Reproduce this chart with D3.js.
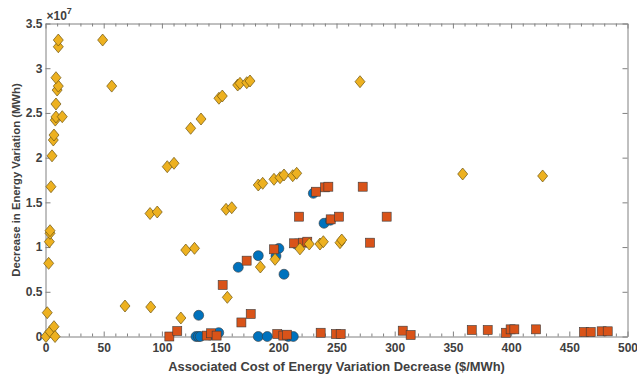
<!DOCTYPE html>
<html><head><meta charset="utf-8">
<script src="https://cdn.jsdelivr.net/npm/d3@7"></script>
<style>
html,body{margin:0;padding:0;background:#fff;}
text{font-family:"Liberation Sans",Arial,sans-serif;}
</style></head>
<body><svg id="c" width="637" height="377"></svg>
<script>
// x in $/MWh, y in units of 1e7 MWh
const circleX = [129.3,131.3,133,131.6,141.3,148.8,165.6,182.8,182.8,190.5,200.5,198,204.9,208.6,212.9,215.2,230.1,239.3,244.7];
const circleY = [0,0,0,0.237,0.017,0.043,0.774,0.904,0,0,0.985,0.9,0.696,0,0,1.034,1.601,1.266,1.3];

const squareX = [106.4,113.2,138.5,142.3,147,152.2,168.3,172.8,176.3,196.3,199.1,204.3,207.5,213.5,217.8,221,224.9,232.4,236.4,240.1,243,245,249.6,252.1,253.6,272.5,278.8,293.1,306.9,313.7,366.2,379.9,395.6,399.6,402.8,421.4,462.6,468.4,477.8,483];
const squareY = [0,0.061,0.01,0.036,0.01,0.576,0.157,0.848,0.252,0.975,0.028,0.01,0.02,1.042,1.34,1.049,1.06,1.619,0.042,1.668,1.675,1.31,0.028,1.34,0.028,1.675,1.049,1.34,0.065,0.017,0.073,0.073,0.042,0.08,0.08,0.08,0.05,0.05,0.058,0.058];

const diamondX = [0.4,1.5,2.7,3.3,3.9,3.9,3.9,7.3,8.2,4.7,5.6,6.7,7.3,8.4,9,14.4,9,10,11,9,11,11,49.1,56.9,68.3,90.4,89.8,96,104.6,110.4,116.3,120.5,128,124.7,133.6,149,151.9,155.1,160,156.2,165.1,167.1,172.9,175.7,182.8,186.6,184.6,196.3,197.2,201.5,204.9,212.4,215.8,218.6,226.6,235.8,238.7,253,254.5,270.2,358.4,427.1];
const diamondY = [0,0.266,0.818,1.06,1.154,1.183,0.054,0.11,0.0,1.675,2.02,2.197,2.253,2.42,2.455,2.458,2.60,2.756,2.80,2.894,3.24,3.315,3.315,2.80,0.341,0.33,1.375,1.392,1.899,1.937,0.207,0.967,0.986,2.328,2.432,2.664,2.689,1.422,1.44,0.438,2.812,2.831,2.838,2.857,1.694,1.713,0.777,1.758,0.863,1.776,1.806,1.798,1.825,0.98,1.034,1.034,1.06,1.049,1.079,2.849,1.817,1.795];

const xTicks = [0,50,100,150,200,250,300,350,400,450,500];
const yTicks = [0,0.5,1,1.5,2,2.5,3,3.5];
const xLabel = "Associated Cost of Energy Variation Decrease ($/MWh)";
const yLabel = "Decrease in Energy Variation (MWh)";

const svg = d3.select("#c");
const x = d3.scaleLinear().domain([0,500]).range([45.5,627.5]);
const y = d3.scaleLinear().domain([0,3.5]).range([336.5,23.5]);
const axisColor = "#808080", textColor = "#404040";
const minor = d3.range(0,501,10).filter(v => v % 50 !== 0);

function styleAxis(g){
  g.select(".domain").attr("stroke", axisColor).attr("stroke-width",1);
  g.selectAll(".tick line").attr("stroke", axisColor);
  g.selectAll(".tick text").attr("fill", textColor).attr("font-size","12px").attr("font-weight","bold")
   .attr("font-family","'Liberation Sans',Arial,sans-serif");
}

// bottom axis
const gb = svg.append("g").attr("transform",`translate(0,${y(0)})`)
  .call(d3.axisBottom(x).tickValues(xTicks).tickSizeInner(-5).tickSizeOuter(0).tickPadding(7).tickFormat(d3.format("d")));
styleAxis(gb);
svg.append("g").attr("transform",`translate(0,${y(0)})`)
  .call(d3.axisBottom(x).tickValues(minor).tickSize(-3).tickFormat(""))
  .call(g=>{g.select(".domain").remove(); g.selectAll("line").attr("stroke",axisColor);});
// top axis
const gt = svg.append("g").attr("transform",`translate(0,${y(3.5)})`)
  .call(d3.axisTop(x).tickValues(xTicks).tickSizeInner(-5).tickSizeOuter(0).tickFormat(""));
styleAxis(gt);
svg.append("g").attr("transform",`translate(0,${y(3.5)})`)
  .call(d3.axisTop(x).tickValues(minor).tickSize(-3).tickFormat(""))
  .call(g=>{g.select(".domain").remove(); g.selectAll("line").attr("stroke",axisColor);});
// left axis
const gl = svg.append("g").attr("transform",`translate(${x(0)},0)`)
  .call(d3.axisLeft(y).tickValues(yTicks).tickSizeInner(-5).tickSizeOuter(0).tickPadding(3).tickFormat(d3.format("~g")));
styleAxis(gl);
// right axis
const gr = svg.append("g").attr("transform",`translate(${x(500)},0)`)
  .call(d3.axisRight(y).tickValues(yTicks).tickSizeInner(-5).tickSizeOuter(0).tickFormat(""));
styleAxis(gr);

// multiplier
const mt = svg.append("text").attr("x", x(0)+1).attr("y", 20).attr("fill",textColor)
  .attr("font-size","12px").attr("font-weight","bold");
mt.append("tspan").text("×10");
mt.append("tspan").attr("dy",-6).attr("font-size","9px").text("7");

// labels
svg.append("text").attr("x",(x(0)+x(500))/2).attr("y",371).attr("text-anchor","middle")
  .attr("fill",textColor).attr("font-size","12.9px").attr("font-weight","bold").text(xLabel);
svg.append("text").attr("transform",`translate(20,${(y(0)+y(3.5))/2}) rotate(-90)`).attr("text-anchor","middle")
  .attr("fill",textColor).attr("font-size","11.3px").attr("font-weight","bold").text(yLabel);

const plot = svg.append("g");
const edge = "#3a3a3a";
// circles
plot.selectAll(".c").data(d3.zip(circleX,circleY)).join("circle")
  .attr("cx",d=>x(d[0])).attr("cy",d=>y(d[1])).attr("r",5)
  .attr("fill","#0072BD").attr("stroke",edge).attr("stroke-width",0.6);
// squares
plot.selectAll(".s").data(d3.zip(squareX,squareY)).join("rect")
  .attr("x",d=>x(d[0])-4.5).attr("y",d=>y(d[1])-4.5).attr("width",9).attr("height",9)
  .attr("fill","#D95319").attr("stroke",edge).attr("stroke-width",0.6);
// diamonds
plot.selectAll(".d").data(d3.zip(diamondX,diamondY)).join("path")
  .attr("transform",d=>`translate(${x(d[0])},${y(d[1])})`)
  .attr("d","M0,-6L5,0L0,6L-5,0Z")
  .attr("fill","#EDB120").attr("stroke","#6b5310").attr("stroke-width",0.7);
</script></body></html>
